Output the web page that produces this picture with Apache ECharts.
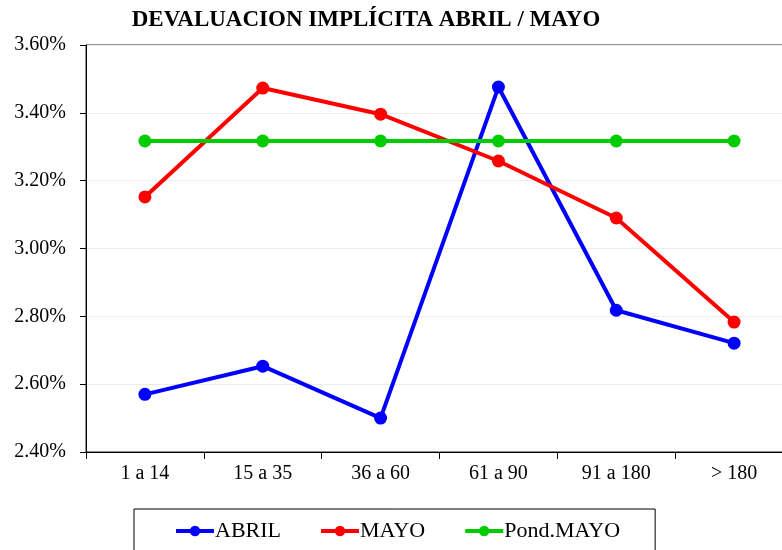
<!DOCTYPE html>
<html>
<head>
<meta charset="utf-8">
<script src="https://cdn.jsdelivr.net/npm/echarts@6/dist/echarts.min.js"></script>
<style>
  html, body { margin: 0; padding: 0; background: #fff; overflow: hidden; }
  #chart { width: 800px; height: 550px; }
</style>
</head>
<body>
<div id="chart"></div>
<script>
  // tramos de plazo
  var categories = ['1 a 14', '15 a 35', '36 a 60', '61 a 90', '91 a 180', '> 180'];
  // devaluacion implicita (%)
  var abril = [2.57, 2.653, 2.50, 3.476, 2.818, 2.721];
  var mayo = [3.152, 3.473, 3.396, 3.258, 3.09, 2.783];
  var pondMayo = [3.317, 3.317, 3.317, 3.317, 3.317, 3.317];

  var serif = '"Liberation Serif", "Times New Roman", serif';
  var chart = echarts.init(document.getElementById('chart'));

  function lineSeries(name, data, color) {
    return {
      name: name,
      type: 'line',
      data: data,
      symbol: 'circle',
      symbolSize: 13,
      lineStyle: { color: color, width: 4 },
      itemStyle: { color: color },
      animation: false
    };
  }

  var option = {
    backgroundColor: '#fff',
    title: {
      text: 'DEVALUACION IMPLÍCITA ABRIL / MAYO',
      left: 361,
      textAlign: 'center',
      top: 4,
      textStyle: { fontFamily: serif, fontSize: 23, fontWeight: 'bold', color: '#000' }
    },
    grid: {
      left: 86, top: 45, width: 707, height: 407,
      show: true, borderColor: '#222', borderWidth: 1
    },
    legend: {
      left: 134, top: 509,
      padding: [11, 35, 30, 40],
      itemGap: 38,
      itemWidth: 38, itemHeight: 13,
      borderColor: '#000', borderWidth: 1,
      lineStyle: { width: 4 },
      textStyle: { fontFamily: serif, fontSize: 22, color: '#000', padding: [0, 0, 0, -4] },
      data: ['ABRIL', 'MAYO', 'Pond.MAYO']
    },
    xAxis: {
      type: 'category',
      data: categories,
      boundaryGap: true,
      axisLine: { lineStyle: { color: '#000', width: 1 } },
      axisTick: { show: true, length: 7, lineStyle: { color: '#000' } },
      axisLabel: { fontFamily: serif, fontSize: 20, color: '#000', margin: 12 }
    },
    yAxis: {
      type: 'value',
      min: 2.4, max: 3.6, interval: 0.2,
      axisLine: { show: true, lineStyle: { color: '#000', width: 1 } },
      axisTick: { show: true, length: 6, lineStyle: { color: '#000' } },
      axisLabel: {
        fontFamily: serif, fontSize: 20, color: '#000', margin: 20,
        formatter: function (v) { return v.toFixed(2) + '%'; }
      },
      splitLine: { lineStyle: { color: '#ececec', width: 1 } }
    },
    series: [
      lineSeries('ABRIL', abril, '#0000ff'),
      lineSeries('MAYO', mayo, '#ff0000'),
      lineSeries('Pond.MAYO', pondMayo, '#00cc00')
    ]
  };

  chart.setOption(option);
</script>
</body>
</html>
